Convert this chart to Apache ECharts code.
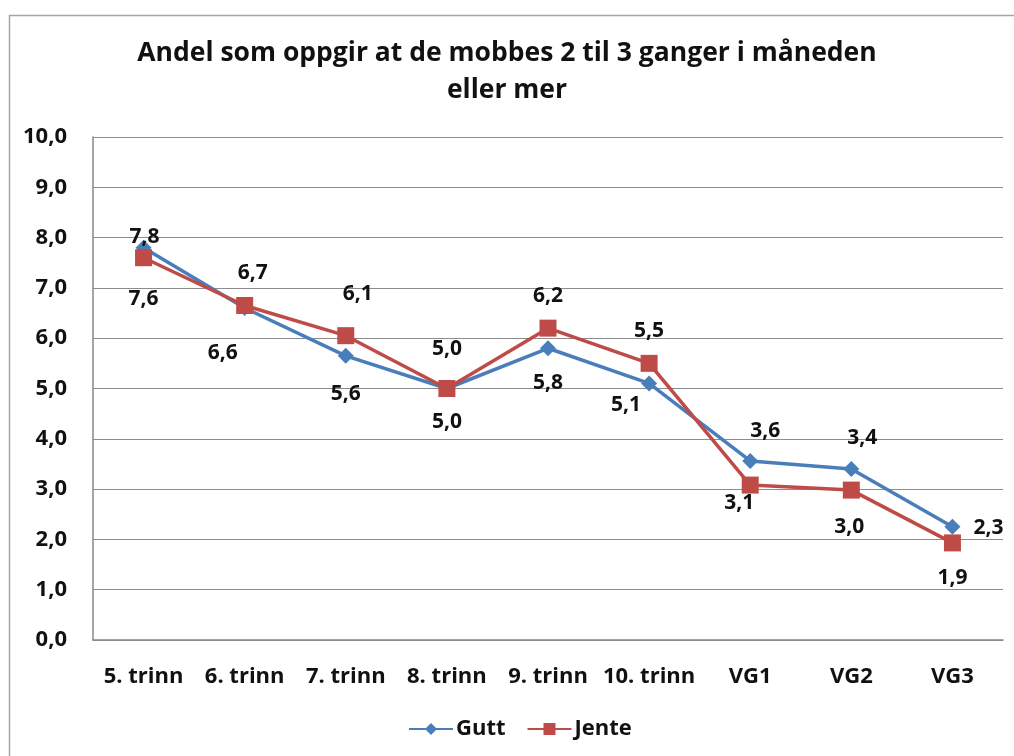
<!DOCTYPE html>
<html>
<head>
<meta charset="utf-8">
<script src="https://cdn.jsdelivr.net/npm/echarts@6/dist/echarts.min.js"></script>
<style>
  html, body { margin: 0; padding: 0; background: #fff; }
  #main { width: 1014px; height: 756px; }
</style>
</head>
<body>
<div id="main"></div>
<script>
let categories = ['5. trinn', '6. trinn', '7. trinn', '8. trinn', '9. trinn', '10. trinn', 'VG1', 'VG2', 'VG3'];
let gutt = [7.8, 6.6, 5.65, 5.0, 5.8, 5.1, 3.56, 3.4, 2.25];
let jente = [7.6, 6.65, 6.05, 5.0, 6.2, 5.5, 3.08, 2.98, 1.93];
let guttText = ['7,8', '6,6', '5,6', '5,0', '5,8', '5,1', '3,6', '3,4', '2,3'];
let jenteText = ['7,6', '6,7', '6,1', '5,0', '6,2', '5,5', '3,1', '3,0', '1,9'];
// label offsets [dx, dy] relative to the point
let guttOff = [[1, -11], [-22, 45], [0, 38], [0, -39], [0, 35], [-23, 22], [15, -30], [11, -31], [36, 1]];
let jenteOff = [[0, 41], [8, -32], [12, -42], [0, 34], [0, -32], [0, -32], [-11, 18], [-2, 37], [0, 35]];

let fam = '"Open Sans", sans-serif';

function buildData(vals, texts, offs) {
    return vals.map(function (v, i) {
        return {
            value: v,
            label: {
                show: true,
                position: 'inside',
                offset: offs[i],
                formatter: texts[i]
            }
        };
    });
}

let chart = echarts.init(document.getElementById('main'));
let option = {
    backgroundColor: '#fff',
    animation: false,
    graphic: [{
        type: 'rect',
        left: 7, top: 13,
        shape: { width: 1030, height: 770 },
        style: { fill: 'none', stroke: '#a6a6a6', lineWidth: 1.5 },
        silent: true
    }],
    title: {
        text: 'Andel som oppgir at de mobbes 2 til 3 ganger i måneden\neller mer',
        left: 'center',
        top: 30,
        textStyle: { fontFamily: fam, fontWeight: 'bold', fontSize: 26.5, color: '#111', lineHeight: 37 }
    },
    legend: {
        bottom: 11,
        left: 403,
        itemWidth: 44,
        itemHeight: 15,
        itemGap: 21,
        textStyle: { fontFamily: fam, fontWeight: 'bold', fontSize: 22, color: '#111', padding: [0, 0, 0, -2] },
        data: ['Gutt', 'Jente']
    },
    grid: { left: 93, right: 11, top: 137, bottom: 116 },
    xAxis: {
        type: 'category',
        data: categories,
        boundaryGap: true,
        axisLine: { lineStyle: { color: '#888', width: 1.5 } },
        axisTick: { show: false },
        axisLabel: { interval: 0, margin: 26, fontFamily: fam, fontWeight: 'bold', fontSize: 22, color: '#111' }
    },
    yAxis: {
        type: 'value',
        min: 0, max: 10, interval: 1,
        axisLine: { show: true, lineStyle: { color: '#888', width: 1.5 } },
        axisTick: { show: false },
        splitLine: { lineStyle: { color: '#8c8c8c', width: 1.2 } },
        axisLabel: {
            margin: 26,
            fontFamily: fam, fontWeight: 'bold', fontSize: 22, color: '#111',
            formatter: function (v) { return v.toFixed(1).replace('.', ','); }
        }
    },
    series: [
        {
            name: 'Gutt',
            type: 'line',
            data: buildData(gutt, guttText, guttOff),
            symbol: 'diamond',
            symbolSize: 16,
            color: '#4a7ebb',
            lineStyle: { width: 3.5, color: '#4a7ebb' },
            itemStyle: { color: '#4a7ebb' },
            label: { fontFamily: fam, fontWeight: 'bold', fontSize: 21, color: '#111' },
            z: 3
        },
        {
            name: 'Jente',
            type: 'line',
            data: buildData(jente, jenteText, jenteOff),
            symbol: 'rect',
            symbolSize: 17,
            color: '#be4b48',
            lineStyle: { width: 3.5, color: '#be4b48' },
            itemStyle: { color: '#be4b48' },
            label: { fontFamily: fam, fontWeight: 'bold', fontSize: 21, color: '#111' },
            z: 4
        }
    ]
};
chart.setOption(option);
</script>
</body>
</html>
